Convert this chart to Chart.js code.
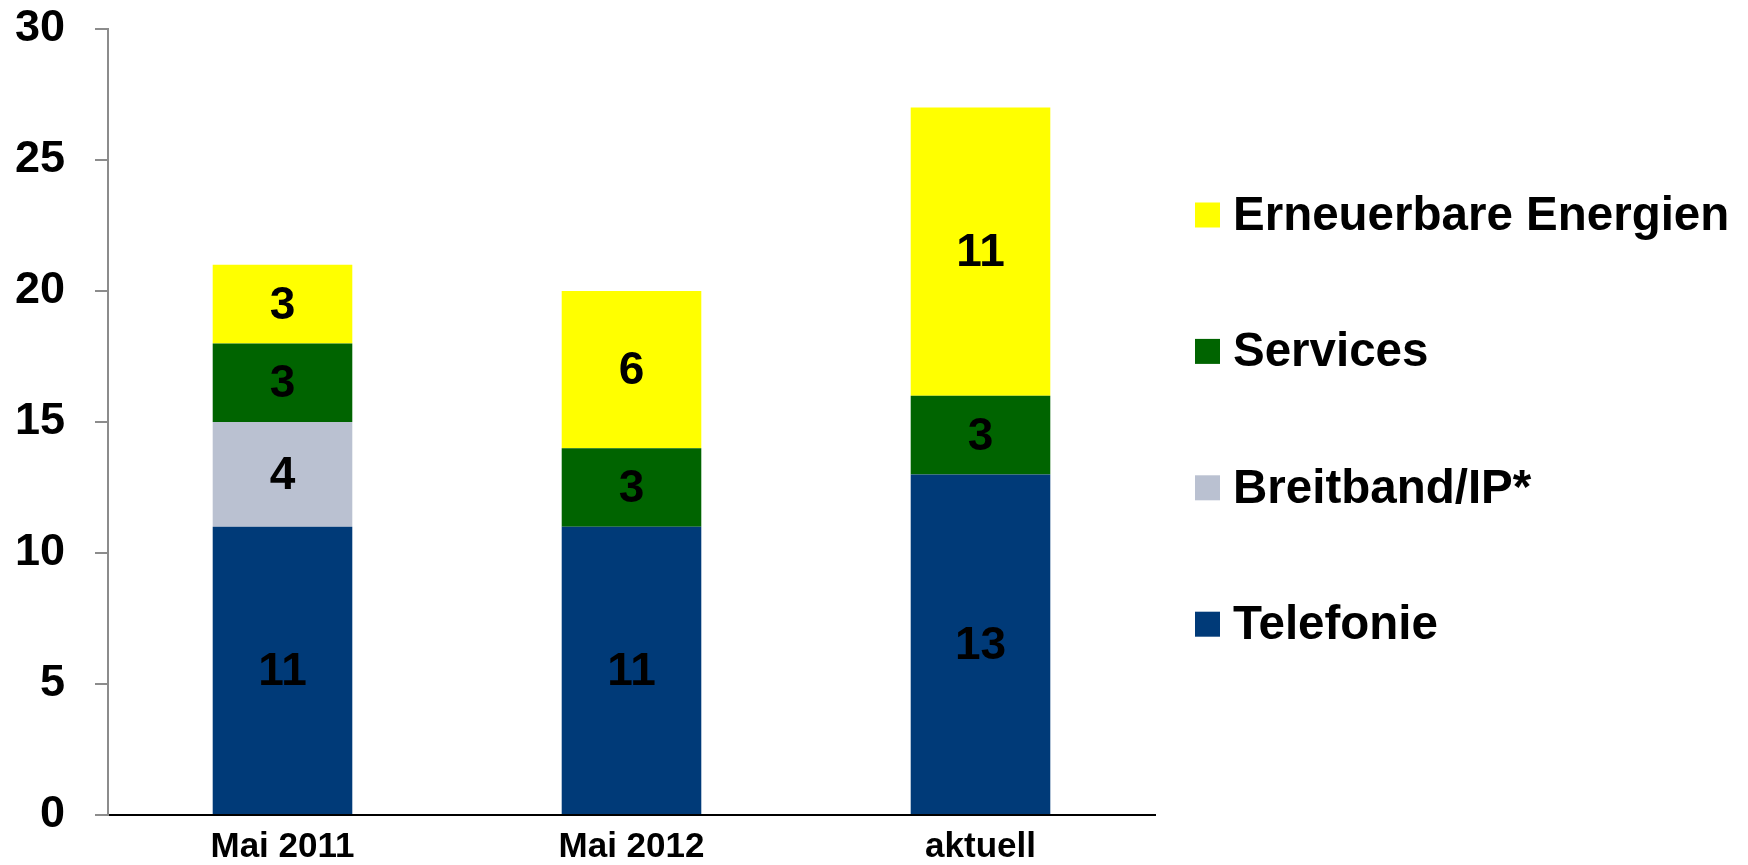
<!DOCTYPE html>
<html lang="de">
<head>
    <meta charset="UTF-8">
    <title>Geschäftsfelder</title>
    <style>
        html, body { margin: 0; padding: 0; background: #fff; }
        #wrap { width: 1748px; height: 865px; }
    </style>
</head>
<body>
    <div id="wrap">
        <canvas id="chart" width="1748" height="865"></canvas>
    </div>

    <script src="https://cdn.jsdelivr.net/npm/chart.js"></script>
    <script>
        // Daten
        const kategorien = ['Mai 2011', 'Mai 2012', 'aktuell'];
        const telefonie = [11, 11, 13];
        const breitband = [4, 0, 0];
        const services = [3, 3, 3];
        const erneuerbare = [3, 6, 11];
        const yTicks = [0, 5, 10, 15, 20, 25, 30];

        const SCHRIFT = '"Liberation Sans", Arial, sans-serif';

        // Werte in die Balken schreiben
        const werteLabels = {
            id: 'werteLabels',
            afterDatasetsDraw(chart) {
                const ctx = chart.ctx;
                ctx.save();
                ctx.font = 'bold 46px ' + SCHRIFT;
                ctx.fillStyle = '#000';
                ctx.textAlign = 'center';
                ctx.textBaseline = 'middle';
                chart.data.datasets.forEach((ds, i) => {
                    chart.getDatasetMeta(i).data.forEach((bar, j) => {
                        const v = ds.data[j];
                        if (!v) return;
                        ctx.fillText(String(v), bar.x, (bar.y + bar.base) / 2 + 2);
                    });
                });
                ctx.restore();
            }
        };

        // Legende rechts, in umgekehrter Reihenfolge
        const legende = {
            id: 'legende',
            afterDraw(chart) {
                const ctx = chart.ctx;
                const x = 1195, y0 = 215, abstand = 136.4, box = 25;
                ctx.save();
                ctx.font = 'bold 47.5px ' + SCHRIFT;
                ctx.textBaseline = 'middle';
                ctx.textAlign = 'left';
                const ds = chart.data.datasets.slice().reverse();
                ds.forEach((d, i) => {
                    const y = y0 + i * abstand;
                    ctx.fillStyle = d.backgroundColor;
                    ctx.fillRect(x, y - box / 2, box, box);
                    ctx.fillStyle = '#000';
                    ctx.fillText(d.label, x + box + 13, y + 2);
                });
                ctx.restore();
            }
        };

        new Chart(document.getElementById('chart'), {
            type: 'bar',
            data: {
                labels: kategorien,
                datasets: [
                    { label: 'Telefonie', data: telefonie, backgroundColor: '#003A78' },
                    { label: 'Breitband/IP*', data: breitband, backgroundColor: '#BAC1D1' },
                    { label: 'Services', data: services, backgroundColor: '#006400' },
                    { label: 'Erneuerbare Energien', data: erneuerbare, backgroundColor: '#FFFF00' }
                ]
            },
            options: {
                responsive: false,
                animation: false,
                layout: { padding: { top: 29, right: 593, bottom: 0, left: 0 } },
                datasets: {
                    bar: { categoryPercentage: 1, barPercentage: 0.4, borderWidth: 0 }
                },
                plugins: {
                    legend: { display: false },
                    tooltip: { enabled: false }
                },
                scales: {
                    x: {
                        stacked: true,
                        grid: { display: false, drawTicks: false },
                        border: { display: true, color: '#000', width: 2 },
                        ticks: {
                            color: '#000',
                            padding: 11,
                            font: { family: SCHRIFT, size: 35, weight: 'bold' }
                        },
                        afterFit(s) { s.height = 50; }
                    },
                    y: {
                        stacked: true,
                        min: 0,
                        max: 30,
                        afterBuildTicks(s) { s.ticks = yTicks.map(v => ({ value: v })); },
                        grid: { display: true, drawOnChartArea: false, tickLength: 13, color: '#8c8c8c', lineWidth: 2 },
                        border: { display: true, color: '#8c8c8c', width: 2 },
                        ticks: {
                            color: '#000',
                            padding: 30,
                            font: { family: SCHRIFT, size: 45, weight: 'bold' }
                        },
                        afterFit(s) {
                            s.width = 108;
                            s.paddingTop = 0;
                            s.paddingBottom = 0;
                        }
                    }
                }
            },
            plugins: [werteLabels, legende]
        });
    </script>
</body>
</html>
